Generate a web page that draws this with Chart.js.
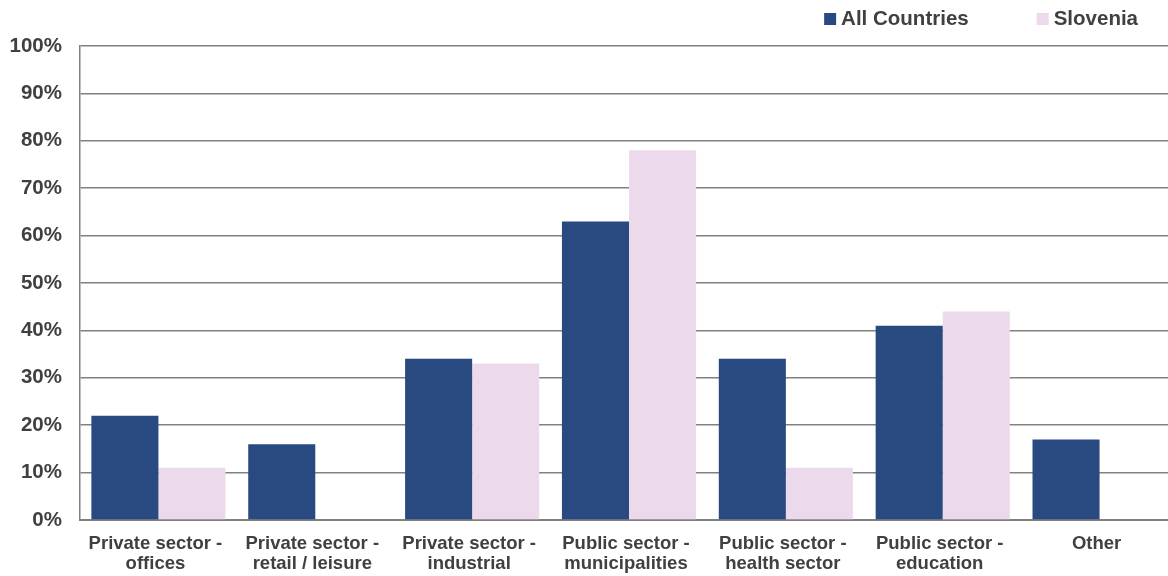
<!DOCTYPE html>
<html>
<head>
<meta charset="utf-8">
<script src="https://cdn.jsdelivr.net/npm/chart.js@4"></script>
<style>
  html, body { margin: 0; padding: 0; background: #fff; overflow: hidden; }
  /* canvas is a bit wider than the window so the plot runs off the right edge */
  #wrap { width: 1178px; height: 576px; position: relative; }
</style>
</head>
<body>
<div id="wrap"><canvas id="myChart"></canvas></div>
<script>
// sector categories (two-line labels)
const categories = [
    ['Private sector -', 'offices'],
    ['Private sector -', 'retail / leisure'],
    ['Private sector -', 'industrial'],
    ['Public sector -', 'municipalities'],
    ['Public sector -', 'health sector'],
    ['Public sector -', 'education'],
    'Other'
];
const allCountries = [22, 16, 34, 63, 34, 41, 17];
const slovenia = [11, 0, 33, 78, 11, 44, 0];
const seriesNames = ['All Countries', 'Slovenia'];
const yTicks = [0, 10, 20, 30, 40, 50, 60, 70, 80, 90, 100];

const textColor = '#404040';
const fontFamily = "Arial, 'Liberation Sans', sans-serif";

// simple legend in the top right corner
const topLegend = {
    id: 'topLegend',
    afterDraw(chart) {
        const ctx = chart.ctx;
        const sets = chart.data.datasets;
        ctx.save();
        ctx.font = 'bold 20.5px ' + fontFamily;
        ctx.textBaseline = 'middle';
        let right = 1138;
        for (let i = sets.length - 1; i >= 0; i--) {
            const w = ctx.measureText(sets[i].label).width;
            const x = right - w - 17;
            ctx.fillStyle = sets[i].backgroundColor;
            ctx.fillRect(x, 13, 12, 12);
            ctx.fillStyle = textColor;
            ctx.fillText(sets[i].label, x + 17, 19.5);
            right = x - 68;
        }
        ctx.restore();
    }
};

const ctx = document.getElementById('myChart').getContext('2d');
const myChart = new Chart(ctx, {
    type: 'bar',
    data: {
        labels: categories,
        datasets: [{
            label: seriesNames[0],
            data: allCountries,
            backgroundColor: '#294a80',
            categoryPercentage: 0.855,
            barPercentage: 1
        }, {
            label: seriesNames[1],
            data: slovenia,
            backgroundColor: '#ecdaec',
            categoryPercentage: 0.855,
            barPercentage: 1
        }]
    },
    options: {
        responsive: true,
        maintainAspectRatio: false,
        animation: false,
        layout: { padding: { top: 46, left: 0, right: 0, bottom: 0 } },
        plugins: {
            legend: { display: false },
            tooltip: { enabled: false }
        },
        scales: {
            x: {
                grid: { display: false },
                border: { display: true, color: '#808080', width: 2 },
                ticks: {
                    color: textColor,
                    font: { family: fontFamily, size: 18.5, weight: 'bold', lineHeight: 1.08 },
                    padding: 6,
                    labelOffset: -3,
                    maxRotation: 0,
                    autoSkip: false
                },
                afterFit(scale) { scale.height = 56; }
            },
            y: {
                min: 0,
                max: 100,
                afterBuildTicks(scale) {
                    scale.ticks = yTicks.map(v => ({ value: v }));
                },
                grid: { color: '#808080', lineWidth: 1.5, drawTicks: false },
                border: { display: true, color: '#808080', width: 1.5 },
                ticks: {
                    color: textColor,
                    font: { family: fontFamily, size: 20.5, weight: 'bold' },
                    padding: 18,
                    callback: v => v + '%'
                },
                afterFit(scale) { scale.width = 80; }
            }
        }
    },
    plugins: [topLegend]
});
</script>
</body>
</html>
